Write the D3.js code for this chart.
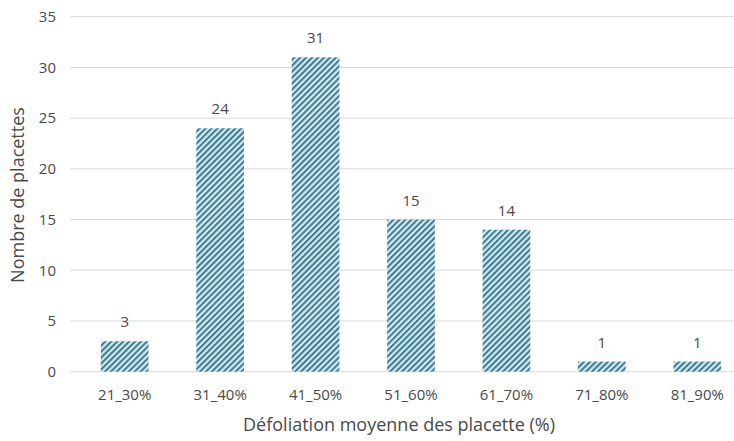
<!DOCTYPE html>
<html lang="fr">
<head>
    <meta charset="UTF-8">
    <title>Défoliation</title>
    <script src="https://d3js.org/d3.v7.min.js"></script>
    <style>
        body { margin: 0; background: #fff; }
        text { font-family: "Open Sans", "Noto Sans", sans-serif; fill: #4a4a4a; }
    </style>
</head>
<body>
    <div id="chart"></div>
    <script>
        // data
        const categories = ["21_30%", "31_40%", "41_50%", "51_60%", "61_70%", "71_80%", "81_90%"];
        const counts = [3, 24, 31, 15, 14, 1, 1];
        const yTicks = [0, 5, 10, 15, 20, 25, 30, 35];

        const width = 734, height = 441;
        const svg = d3.select("#chart").append("svg")
            .attr("width", width)
            .attr("height", height);

        // hatch pattern
        const defs = svg.append("defs");
        const pat = defs.append("pattern")
            .attr("id", "hatch")
            .attr("patternUnits", "userSpaceOnUse")
            .attr("width", 4.2)
            .attr("height", 4.2)
            .attr("patternTransform", "rotate(45)");
        pat.append("rect").attr("width", 4.2).attr("height", 4.2).attr("fill", "#d2ebf2");
        pat.append("rect").attr("width", 2).attr("height", 4.2).attr("fill", "#3f7a8e");

        const x = d3.scaleBand()
            .domain(categories)
            .range([77, 745])
            .paddingInner(0.5)
            .paddingOuter(0.25);

        const y = d3.scaleLinear()
            .domain([0, 35])
            .range([371.7, 16.7]);

        // gridlines
        svg.append("g")
            .selectAll("line")
            .data(yTicks)
            .join("line")
            .attr("x1", 70)
            .attr("x2", width)
            .attr("y1", d => y(d))
            .attr("y2", d => y(d))
            .attr("stroke", "#d9d9d9")
            .attr("stroke-width", 1);

        // y tick labels
        svg.append("g")
            .selectAll("text")
            .data(yTicks)
            .join("text")
            .attr("x", 56)
            .attr("y", d => y(d))
            .attr("dy", "0.35em")
            .attr("text-anchor", "end")
            .style("font-size", "15px")
            .text(d => d);

        // bars
        svg.append("g")
            .selectAll("rect")
            .data(counts)
            .join("rect")
            .attr("x", (d, i) => x(categories[i]))
            .attr("y", d => y(d))
            .attr("width", x.bandwidth())
            .attr("height", d => y(0) - y(d))
            .attr("fill", "url(#hatch)");

        // value labels
        svg.append("g")
            .selectAll("text")
            .data(counts)
            .join("text")
            .attr("x", (d, i) => x(categories[i]) + x.bandwidth() / 2)
            .attr("y", d => y(d) - 14)
            .attr("text-anchor", "middle")
            .style("font-size", "15px")
            .text(d => d);

        // x tick labels
        svg.append("g")
            .selectAll("text")
            .data(categories)
            .join("text")
            .attr("x", d => x(d) + x.bandwidth() / 2)
            .attr("y", 395)
            .attr("dy", "0.35em")
            .attr("text-anchor", "middle")
            .style("font-size", "15px")
            .text(d => d);

        // axis titles
        svg.append("text")
            .attr("x", 399)
            .attr("y", 425)
            .attr("dy", "0.35em")
            .attr("text-anchor", "middle")
            .style("font-size", "18px")
            .text("Défoliation moyenne des placette (%)");

        svg.append("text")
            .attr("transform", "translate(18,195) rotate(-90)")
            .attr("dy", "0.35em")
            .attr("text-anchor", "middle")
            .style("font-size", "18px")
            .text("Nombre de placettes");
    </script>
</body>
</html>
